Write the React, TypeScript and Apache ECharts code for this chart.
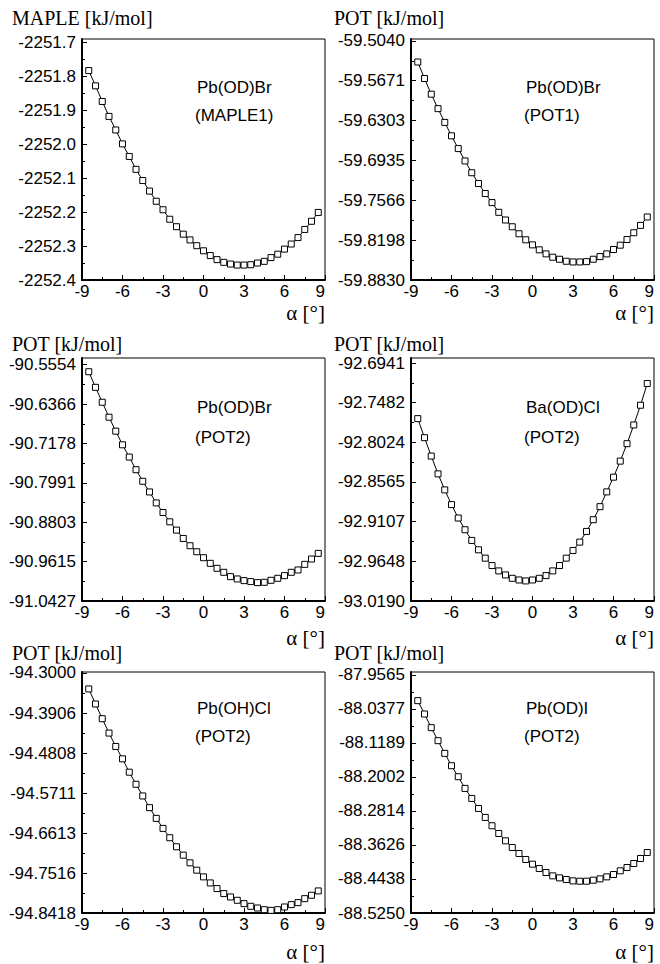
import React, { useEffect, useRef } from "react";
import * as echarts from "echarts";

// tilt angle alpha [deg]
const alpha = [
  -8.5, -8, -7.5, -7, -6.5, -6, -5.5, -5, -4.5, -4, -3.5, -3, -2.5, -2, -1.5, -1, -0.5,
  0, 0.5, 1, 1.5, 2, 2.5, 3, 3.5, 4, 4.5, 5, 5.5, 6, 6.5, 7, 7.5, 8, 8.5,
];

const pbBrMaple1 = [
  -2251.783, -2251.828, -2251.874, -2251.918, -2251.958, -2251.999, -2252.036, -2252.074,
  -2252.107, -2252.138, -2252.168, -2252.193, -2252.221, -2252.243, -2252.265, -2252.282,
  -2252.299, -2252.314, -2252.328, -2252.340, -2252.348, -2252.353, -2252.356, -2252.356,
  -2252.355, -2252.350, -2252.345, -2252.334, -2252.324, -2252.309, -2252.294, -2252.275,
  -2252.251, -2252.227, -2252.201,
];

const pbBrPot1 = [
  -59.5375, -59.5636, -59.5885, -59.6114, -59.6332, -59.6545, -59.6747, -59.6943,
  -59.7130, -59.7300, -59.7459, -59.7603, -59.7757, -59.7879, -59.7986, -59.8097,
  -59.8193, -59.8273, -59.8352, -59.8416, -59.8469, -59.8501, -59.8533, -59.8544,
  -59.8544, -59.8539, -59.8501, -59.8459, -59.8416, -59.8347, -59.8278, -59.8188,
  -59.8081, -59.7964, -59.7831,
];

const pbBrPot2 = [
  -90.5698, -90.6020, -90.6328, -90.6636, -90.6924, -90.7205, -90.7458, -90.7719,
  -90.7958, -90.8178, -90.8404, -90.8602, -90.8794, -90.8965, -90.9137, -90.9287,
  -90.9411, -90.9534, -90.9650, -90.9753, -90.9835, -90.9924, -90.9972, -91.0007,
  -91.0027, -91.0048, -91.0041, -91.0000, -90.9959, -90.9904, -90.9835, -90.9787,
  -90.9671, -90.9561, -90.9445,
];

const baClPot2 = [
  -92.7700, -92.7960, -92.8211, -92.8454, -92.8673, -92.8874, -92.9057, -92.9217,
  -92.9363, -92.9491, -92.9605, -92.9706, -92.9779, -92.9834, -92.9880, -92.9903,
  -92.9916, -92.9903, -92.9880, -92.9843, -92.9779, -92.9706, -92.9605, -92.9500,
  -92.9386, -92.9240, -92.9080, -92.8902, -92.8700, -92.8499, -92.8280, -92.8042,
  -92.7786, -92.7517, -92.7220,
];

const pbOHClPot2 = [
  -94.3362, -94.3702, -94.4034, -94.4358, -94.4660, -94.4939, -94.5241, -94.5513,
  -94.5777, -94.6041, -94.6283, -94.6509, -94.6720, -94.6924, -94.7112, -94.7286,
  -94.7452, -94.7603, -94.7739, -94.7867, -94.7980, -94.8056, -94.8131, -94.8207,
  -94.8267, -94.8305, -94.8343, -94.8358, -94.8343, -94.8282, -94.8229, -94.8184,
  -94.8094, -94.8018, -94.7920,
];

const pbIPot2 = [
  -88.0179, -88.0498, -88.0824, -88.1135, -88.1438, -88.1733, -88.1996, -88.2275,
  -88.2514, -88.2753, -88.2968, -88.3167, -88.3351, -88.3526, -88.3686, -88.3829,
  -88.3972, -88.4084, -88.4188, -88.4283, -88.4363, -88.4411, -88.4451, -88.4483,
  -88.4491, -88.4491, -88.4467, -88.4435, -88.4387, -88.4331, -88.4243, -88.4164,
  -88.4068, -88.3948, -88.3805,
];

// y tick labels per panel
const ticksMaple1 = [-2252.4, -2252.3, -2252.2, -2252.1, -2252.0, -2251.9, -2251.8, -2251.7];
const ticksPot1 = [-59.883, -59.8198, -59.7566, -59.6935, -59.6303, -59.5671, -59.504];
const ticksPbBr = [-91.0427, -90.9615, -90.8803, -90.7991, -90.7178, -90.6366, -90.5554];
const ticksBaCl = [-93.019, -92.9648, -92.9107, -92.8565, -92.8024, -92.7482, -92.6941];
const ticksPbOHCl = [-94.8418, -94.7516, -94.6613, -94.5711, -94.4808, -94.3906, -94.3];
const ticksPbI = [-88.525, -88.4438, -88.3626, -88.2814, -88.2002, -88.1189, -88.0377, -87.9565];
const tickDecimals = [1, 4, 4, 4, 4, 4];
// top of each y axis (slightly above the highest labelled tick, as in the original)
const yAxisTop = [-2251.69, -59.501, -90.5415, -92.6872, -94.298, -87.9495];

const yTitles = ["MAPLE [kJ/mol]", "POT [kJ/mol]", "POT [kJ/mol]", "POT [kJ/mol]", "POT [kJ/mol]", "POT [kJ/mol]"];
const compounds = ["Pb(OD)Br", "Pb(OD)Br", "Pb(OD)Br", "Ba(OD)Cl", "Pb(OH)Cl", "Pb(OD)I"];
const methods = ["(MAPLE1)", "(POT1)", "(POT2)", "(POT2)", "(POT2)", "(POT2)"];
const xTitle = "α [°]";

const seriesValues = [pbBrMaple1, pbBrPot1, pbBrPot2, baClPot2, pbOHClPot2, pbIPot2];
const yTicks = [ticksMaple1, ticksPot1, ticksPbBr, ticksBaCl, ticksPbOHCl, ticksPbI];

// layout
const colLeft = [82, 411];
const gridW = 243;
const rowTop = [39, 358, 672];
const rowH = [241, 243, 241];
const titleY = [18, 344, 653];
const alphaY = [313, 638, 952];
const compY = [87, 407, 708];
const methY = [115, 437, 736];

const SANS = "'Liberation Sans', Arial, sans-serif";
const SERIF = "'Liberation Serif', 'Times New Roman', serif";

export default function App() {
  const ref = useRef<HTMLDivElement>(null);
  useEffect(() => {
    if (!ref.current) return;
    const chart = echarts.init(ref.current, undefined, { renderer: "svg" });
    const grids: any[] = [];
    const xAxes: any[] = [];
    const yAxes: any[] = [];
    const series: any[] = [];
    const graphics: any[] = [];
    for (let i = 0; i < 6; i++) {
      const r = Math.floor(i / 2);
      const c = i % 2;
      grids.push({
        left: colLeft[c],
        top: rowTop[r],
        width: gridW,
        height: rowH[r],
        show: true,
        borderColor: "#000",
        borderWidth: 1,
        backgroundColor: "transparent",
      });
      xAxes.push({
        type: "value",
        gridIndex: i,
        min: -9,
        max: 9,
        interval: 3,
        axisLine: { show: true, onZero: false, lineStyle: { color: "#000", width: 2 } },
        axisTick: { show: true, inside: true, length: 5, lineStyle: { color: "#000", width: 1 } },
        minorTick: { show: true, splitNumber: 2, length: 3, lineStyle: { color: "#000", width: 1 } },
        splitLine: { show: false },
        axisLabel: {
          color: "#000",
          fontFamily: SANS,
          fontSize: 17,
          margin: 3,
          alignMaxLabel: "right",
        },
      });
      const t = yTicks[i];
      const mids = t.slice(1).map((v, k) => (v + t[k]) / 2);
      const d = tickDecimals[i];
      yAxes.push({
        type: "value",
        gridIndex: i,
        position: "left",
        min: t[0],
        max: yAxisTop[i],
        axisLine: { show: true, onZero: false, lineStyle: { color: "#000", width: 2 } },
        axisTick: { show: true, inside: true, length: 5, customValues: t, lineStyle: { color: "#000", width: 1 } },
        splitLine: { show: false },
        axisLabel: {
          customValues: t,
          formatter: (v: number) => v.toFixed(d),
          color: "#000",
          fontFamily: SANS,
          fontSize: 17,
          margin: 6,
        },
      });
      yAxes.push({
        type: "value",
        gridIndex: i,
        position: "left",
        min: t[0],
        max: yAxisTop[i],
        axisLine: { show: false, onZero: false },
        axisTick: { show: true, inside: true, length: 3, customValues: mids, lineStyle: { color: "#000", width: 1 } },
        splitLine: { show: false },
        axisLabel: { show: false },
      });
      series.push({
        type: "line",
        xAxisIndex: i,
        yAxisIndex: 2 * i,
        data: alpha.map((a, j) => [a, seriesValues[i][j]]),
        symbol: "rect",
        symbolSize: 6,
        showAllSymbol: true,
        lineStyle: { color: "#000", width: 1 },
        itemStyle: { color: "#fff", borderColor: "#000", borderWidth: 1 },
      });
      const left = colLeft[c];
      graphics.push({
        type: "text",
        x: c === 0 ? 12 : 334,
        y: titleY[r],
        style: { text: yTitles[i], font: `20px ${SERIF}`, fill: "#000", textAlign: "left", textVerticalAlign: "middle" },
      });
      graphics.push({
        type: "text",
        x: left + gridW,
        y: alphaY[r],
        style: { text: xTitle, font: `21px ${SERIF}`, fill: "#000", textAlign: "right", textVerticalAlign: "middle" },
      });
      graphics.push({
        type: "text",
        x: left + 115,
        y: compY[r],
        style: { text: compounds[i], font: `17px ${SANS}`, fill: "#000", textAlign: "left", textVerticalAlign: "middle" },
      });
      graphics.push({
        type: "text",
        x: left + 113,
        y: methY[r],
        style: { text: methods[i], font: `17px ${SANS}`, fill: "#000", textAlign: "left", textVerticalAlign: "middle" },
      });
    }
    chart.setOption({
      animation: false,
      backgroundColor: "#fff",
      grid: grids,
      xAxis: xAxes,
      yAxis: yAxes,
      series,
      graphic: graphics,
    });
    return () => chart.dispose();
  }, []);
  return (
    <div
      ref={ref}
      style={{ position: "absolute", left: 0, top: 0, width: 660, height: 964 }}
    />
  );
}
